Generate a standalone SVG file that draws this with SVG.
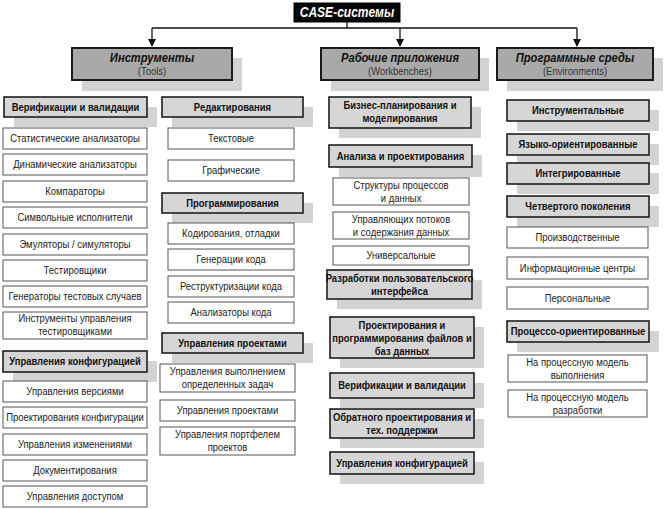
<svg xmlns="http://www.w3.org/2000/svg" width="667" height="509" viewBox="0 0 667 509">
<defs>
<marker id="arr" markerWidth="8" markerHeight="8" refX="7" refY="4" orient="auto" markerUnits="userSpaceOnUse">
<path d="M0,0 L8,4 L0,8 Z" fill="#111"/>
</marker>
<style>
text{font-family:"Liberation Sans",Arial,sans-serif;text-anchor:middle;fill:#111;transform-box:fill-box;transform-origin:center;transform:scaleX(0.86)}
.root rect{fill:#050505;stroke:#000;stroke-width:1}
.root text{fill:#fff;font-weight:bold;font-style:italic;font-size:14px}
.shd{fill:#d3d3d3}
.hdr{fill:#a9a9a9;stroke:#1a1a1a;stroke-width:2}
.cat{fill:#d6d6d6;stroke:#1e1e1e;stroke-width:1.6}
.item{fill:#fff;stroke:#555;stroke-width:1}
.ht{font-weight:bold;font-style:italic;font-size:13px}
.hs{font-size:11px;fill:#333}
.ct{font-weight:bold;font-size:11px}
.it{font-size:11px;fill:#222}
.con{fill:none;stroke:#111;stroke-width:1.3}
</style>
</defs>
<rect width="667" height="509" fill="#fff"/>

<g id="connectors">
<path class="con" d="M347,22 V28 M152,28 H577"/>
<path class="con" d="M152,28 V46" marker-end="url(#arr)"/>
<path class="con" d="M400,28 V46" marker-end="url(#arr)"/>
<path class="con" d="M577,28 V46" marker-end="url(#arr)"/>
</g>

<g id="case" class="root"><rect x="294" y="3" width="106" height="19"/><text x="347" y="17.5">CASE-системы</text></g>

<!-- headers -->
<g id="tools"><rect class="shd" x="82" y="58" width="160" height="33"/><rect class="hdr" x="72" y="48" width="160" height="32"/><text class="ht" x="152" y="62.5">Инструменты</text><text class="hs" x="152" y="75.5">(Tools)</text></g>
<g id="workbenches"><rect class="shd" x="331" y="58" width="158" height="33"/><rect class="hdr" x="321" y="48" width="158" height="32"/><text class="ht" x="400" y="62.5">Рабочие приложения</text><text class="hs" x="400" y="75.5">(Workbenches)</text></g>
<g id="environments"><rect class="shd" x="507" y="58" width="156" height="33"/><rect class="hdr" x="497" y="48" width="156" height="32"/><text class="ht" x="575" y="62.5">Программные среды</text><text class="hs" x="575" y="75.5">(Environments)</text></g>

<!-- column 1 -->
<g id="verif1"><rect class="shd" x="14" y="107" width="143" height="20"/><rect class="cat" x="4" y="97" width="143" height="20"/><text class="ct" x="75.5" y="111">Верификации и валидации</text></g>
<g id="stat"><rect class="item" x="3" y="128" width="144" height="21"/><text class="it" x="75" y="142.5">Статистические анализаторы</text></g>
<g id="dyn"><rect class="item" x="3" y="154" width="144" height="21"/><text class="it" x="75" y="168.5">Динамические анализаторы</text></g>
<g id="komp"><rect class="item" x="3" y="181" width="144" height="21"/><text class="it" x="75" y="195.5">Компараторы</text></g>
<g id="simv"><rect class="item" x="3" y="207" width="144" height="21"/><text class="it" x="75" y="221.5">Символьные исполнители</text></g>
<g id="emul"><rect class="item" x="3" y="234" width="144" height="21"/><text class="it" x="75" y="248.5">Эмуляторы / симуляторы</text></g>
<g id="testers"><rect class="item" x="3" y="260" width="144" height="21"/><text class="it" x="75" y="274.5">Тестировщики</text></g>
<g id="gen"><rect class="item" x="3" y="286" width="144" height="21"/><text class="it" x="75" y="300.5">Генераторы тестовых случаев</text></g>
<g id="testmgmt"><rect class="item" x="3" y="312" width="144" height="27"/><text class="it" x="75" y="322.5">Инструменты управления</text><text class="it" x="75" y="335">тестировщиками</text></g>
<g id="config1"><rect class="shd" x="13" y="361" width="144" height="21"/><rect class="cat" x="3" y="351" width="144" height="21"/><text class="ct" x="75" y="365.5">Управления конфигурацией</text></g>
<g id="versions"><rect class="item" x="3" y="381" width="144" height="21"/><text class="it" x="75" y="395.5">Управления версиями</text></g>
<g id="projconf"><rect class="item" x="3" y="407" width="144" height="21"/><text class="it" x="75" y="421.5">Проектирования конфигурации</text></g>
<g id="changes"><rect class="item" x="3" y="434" width="144" height="21"/><text class="it" x="75" y="448.5">Управления изменениями</text></g>
<g id="docs"><rect class="item" x="3" y="460" width="144" height="21"/><text class="it" x="75" y="474.5">Документирования</text></g>
<g id="access"><rect class="item" x="3" y="486" width="144" height="21"/><text class="it" x="75" y="500.5">Управления доступом</text></g>

<!-- column 2 -->
<g id="edit"><rect class="shd" x="172" y="107" width="141" height="20"/><rect class="cat" x="162" y="97" width="141" height="20"/><text class="ct" x="232.5" y="111">Редактирования</text></g>
<g id="text"><rect class="item" x="168" y="128" width="126" height="21"/><text class="it" x="231" y="142.5">Текстовые</text></g>
<g id="graph"><rect class="item" x="168" y="160" width="126" height="21"/><text class="it" x="231" y="174.5">Графические</text></g>
<g id="prog"><rect class="shd" x="172" y="203" width="141" height="20"/><rect class="cat" x="162" y="193" width="141" height="20"/><text class="ct" x="232.5" y="207">Программирования</text></g>
<g id="coding"><rect class="item" x="168" y="223" width="126" height="21"/><text class="it" x="231" y="237.5">Кодирования, отладки</text></g>
<g id="codegen"><rect class="item" x="168" y="249" width="126" height="21"/><text class="it" x="231" y="263.5">Генерации кода</text></g>
<g id="restruct"><rect class="item" x="168" y="276" width="126" height="21"/><text class="it" x="231" y="290.5">Реструктуризации кода</text></g>
<g id="codeanal"><rect class="item" x="168" y="302" width="126" height="21"/><text class="it" x="231" y="316.5">Анализаторы кода</text></g>
<g id="pm"><rect class="shd" x="172" y="343" width="141" height="20"/><rect class="cat" x="162" y="333" width="141" height="20"/><text class="ct" x="232.5" y="347">Управления проектами</text></g>
<g id="tasks"><rect class="item" x="160" y="364" width="135" height="28"/><text class="it" x="227.5" y="375">Управления выполнением</text><text class="it" x="227.5" y="388">определенных задач</text></g>
<g id="pm2"><rect class="item" x="160" y="400" width="135" height="21"/><text class="it" x="227.5" y="414.5">Управления проектами</text></g>
<g id="portfolio"><rect class="item" x="160" y="427" width="135" height="28"/><text class="it" x="227.5" y="438">Управления портфелем</text><text class="it" x="227.5" y="451">проектов</text></g>

<!-- column 3 -->
<g id="biz"><rect class="shd" x="339" y="107" width="142" height="31"/><rect class="cat" x="329" y="97" width="142" height="31"/><text class="ct" x="400" y="109.5">Бизнес-планирования и</text><text class="ct" x="400" y="122.5">моделирования</text></g>
<g id="analysis"><rect class="shd" x="339" y="155" width="143" height="22"/><rect class="cat" x="329" y="145" width="143" height="22"/><text class="ct" x="400.5" y="160">Анализа и проектирования</text></g>
<g id="struct"><rect class="item" x="333" y="178" width="136" height="27"/><text class="it" x="401" y="189">Структуры процессов</text><text class="it" x="401" y="202">и данных</text></g>
<g id="flows"><rect class="item" x="333" y="212" width="136" height="27"/><text class="it" x="401" y="223">Управляющих потоков</text><text class="it" x="401" y="236">и содержания данных</text></g>
<g id="universal"><rect class="item" x="333" y="246" width="136" height="19"/><text class="it" x="401" y="259.5">Универсальные</text></g>
<g id="ui"><rect class="shd" x="337" y="280" width="145" height="29"/><rect class="cat" x="327" y="270" width="145" height="29"/><text class="ct" x="399.5" y="282">Разработки пользовательского</text><text class="ct" x="399.5" y="295">интерфейса</text></g>
<g id="files"><rect class="shd" x="340" y="327" width="144" height="41"/><rect class="cat" x="330" y="317" width="144" height="41"/><text class="ct" x="402" y="329">Проектирования и</text><text class="ct" x="402" y="342">программирования файлов и</text><text class="ct" x="402" y="355">баз данных</text></g>
<g id="verif3"><rect class="shd" x="340" y="383" width="144" height="25"/><rect class="cat" x="330" y="373" width="144" height="25"/><text class="ct" x="402" y="389.5">Верификации и валидации</text></g>
<g id="reverse"><rect class="shd" x="340" y="419" width="144" height="29"/><rect class="cat" x="330" y="409" width="144" height="29"/><text class="ct" x="402" y="421">Обратного проектирования и</text><text class="ct" x="402" y="434">тех. поддержки</text></g>
<g id="config3"><rect class="shd" x="340" y="462" width="144" height="22"/><rect class="cat" x="330" y="452" width="144" height="22"/><text class="ct" x="402" y="467">Управления конфигурацией</text></g>

<!-- column 4 -->
<g id="instrumental"><rect class="shd" x="517" y="110" width="142" height="21"/><rect class="cat" x="507" y="100" width="142" height="21"/><text class="ct" x="578" y="114.5">Инструментальные</text></g>
<g id="lang"><rect class="shd" x="517" y="144" width="142" height="21"/><rect class="cat" x="507" y="134" width="142" height="21"/><text class="ct" x="578" y="148.5">Языко-ориентированные</text></g>
<g id="integr"><rect class="shd" x="517" y="173" width="142" height="21"/><rect class="cat" x="507" y="163" width="142" height="21"/><text class="ct" x="578" y="177.5">Интегрированные</text></g>
<g id="fourth"><rect class="shd" x="517" y="206" width="142" height="21"/><rect class="cat" x="507" y="196" width="142" height="21"/><text class="ct" x="578" y="210.5">Четвертого поколения</text></g>
<g id="production"><rect class="item" x="507" y="227" width="141" height="21"/><text class="it" x="577.5" y="241.5">Производственные</text></g>
<g id="infocenters"><rect class="item" x="507" y="257" width="141" height="22"/><text class="it" x="577.5" y="272">Информационные центры</text></g>
<g id="personal"><rect class="item" x="507" y="287" width="141" height="22"/><text class="it" x="577.5" y="302">Персональные</text></g>
<g id="process"><rect class="shd" x="517" y="331" width="142" height="21"/><rect class="cat" x="507" y="321" width="142" height="21"/><text class="ct" x="578" y="335.5">Процессо-ориентированные</text></g>
<g id="exec"><rect class="item" x="508" y="355" width="139" height="27"/><text class="it" x="577.5" y="366">На процессную модель</text><text class="it" x="577.5" y="379">выполнения</text></g>
<g id="dev"><rect class="item" x="508" y="390" width="139" height="27"/><text class="it" x="577.5" y="401">На процессную модель</text><text class="it" x="577.5" y="414">разработки</text></g>
</svg>
